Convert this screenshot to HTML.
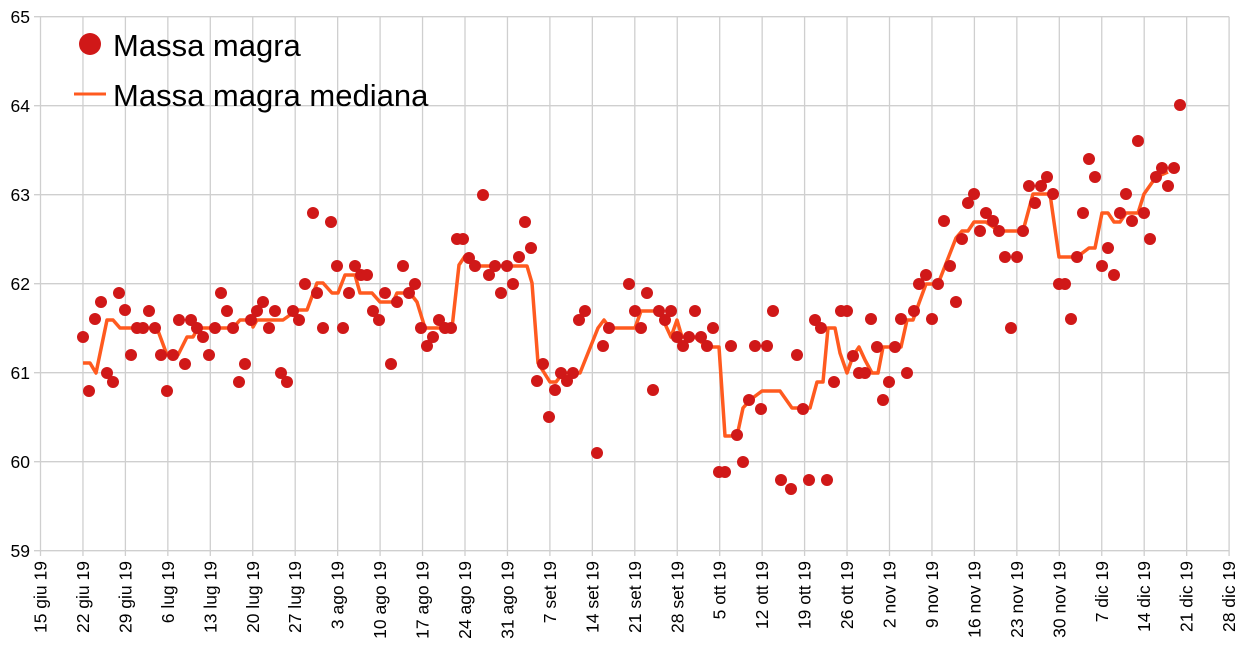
<!DOCTYPE html>
<html><head><meta charset="utf-8"><style>
body{margin:0;background:#fff}
svg text{font-family:"Liberation Sans",Arial,sans-serif;fill:#000}
</style></head><body>
<svg width="1245" height="664" viewBox="0 0 1245 664" xmlns="http://www.w3.org/2000/svg">
<defs>
<marker id="dot" markerUnits="userSpaceOnUse" markerWidth="14" markerHeight="14" refX="7" refY="7" viewBox="0 0 14 14" overflow="visible"><circle cx="7" cy="7" r="6" fill="#d01818"/></marker>
</defs>
<g stroke="#cfcfcf" stroke-width="1.3" fill="none">
<path d="M34 16.7H1229.1M34 105.7H1229.1M34 194.7H1229.1M34 283.7H1229.1M34 372.7H1229.1M34 461.7H1229.1M34 550.7H1229.1"/>
<path d="M40.5 16.7V556M82.95 16.7V556M125.4 16.7V556M167.85 16.7V556M210.3 16.7V556M252.75 16.7V556M295.2 16.7V556M337.65 16.7V556M380.1 16.7V556M422.55 16.7V556M465 16.7V556M507.45 16.7V556M549.9 16.7V556M592.35 16.7V556M634.8 16.7V556M677.25 16.7V556M719.7 16.7V556M762.15 16.7V556M804.6 16.7V556M847.05 16.7V556M889.5 16.7V556M931.95 16.7V556M974.4 16.7V556M1016.85 16.7V556M1059.3 16.7V556M1101.75 16.7V556M1144.2 16.7V556M1186.65 16.7V556M1229.1 16.7V556"/>
</g>
<g font-size="17.5" text-anchor="end">
<text x="30" y="23">65</text><text x="30" y="112">64</text><text x="30" y="201">63</text><text x="30" y="290">62</text><text x="30" y="379">61</text><text x="30" y="468">60</text><text x="30" y="557">59</text>
<text transform="translate(46.5,561) rotate(-90)">15 giu 19</text>
<text transform="translate(88.95,561) rotate(-90)">22 giu 19</text>
<text transform="translate(131.4,561) rotate(-90)">29 giu 19</text>
<text transform="translate(173.85,561) rotate(-90)">6 lug 19</text>
<text transform="translate(216.3,561) rotate(-90)">13 lug 19</text>
<text transform="translate(258.75,561) rotate(-90)">20 lug 19</text>
<text transform="translate(301.2,561) rotate(-90)">27 lug 19</text>
<text transform="translate(343.65,561) rotate(-90)">3 ago 19</text>
<text transform="translate(386.1,561) rotate(-90)">10 ago 19</text>
<text transform="translate(428.55,561) rotate(-90)">17 ago 19</text>
<text transform="translate(471,561) rotate(-90)">24 ago 19</text>
<text transform="translate(513.45,561) rotate(-90)">31 ago 19</text>
<text transform="translate(555.9,561) rotate(-90)">7 set 19</text>
<text transform="translate(598.35,561) rotate(-90)">14 set 19</text>
<text transform="translate(640.8,561) rotate(-90)">21 set 19</text>
<text transform="translate(683.25,561) rotate(-90)">28 set 19</text>
<text transform="translate(725.7,561) rotate(-90)">5 ott 19</text>
<text transform="translate(768.15,561) rotate(-90)">12 ott 19</text>
<text transform="translate(810.6,561) rotate(-90)">19 ott 19</text>
<text transform="translate(853.05,561) rotate(-90)">26 ott 19</text>
<text transform="translate(895.5,561) rotate(-90)">2 nov 19</text>
<text transform="translate(937.95,561) rotate(-90)">9 nov 19</text>
<text transform="translate(980.4,561) rotate(-90)">16 nov 19</text>
<text transform="translate(1022.85,561) rotate(-90)">23 nov 19</text>
<text transform="translate(1065.3,561) rotate(-90)">30 nov 19</text>
<text transform="translate(1107.75,561) rotate(-90)">7 dic 19</text>
<text transform="translate(1150.2,561) rotate(-90)">14 dic 19</text>
<text transform="translate(1192.65,561) rotate(-90)">21 dic 19</text>
<text transform="translate(1235.1,561) rotate(-90)">28 dic 19</text>
</g>
<polyline fill="none" stroke="#ff5a1f" stroke-width="3.5" stroke-linejoin="round" points="83,363 90,363 96,373 107,320 113,320 120,328 157,328 167,355 178,355 187,337 193,337 198,328 233,328 240,320 252,320 253,327 257,320 283,320 297,310 307,310 317,283 323,283 332,293 338,293 345,275 355,275 360,293 372,293 380,302 393,302 397,293 410,293 417,302 425,328 452,328 459,265 465,256 471,262 477,266 527,266 532,283 538,363 550,382 556,382 563,373 580,373 598,328 604,320 610,328 635,328 641,311 659,311 671,337 677,320 682,337 695,337 707,347 719,347 725,436 737,436 743,408 750,400 762,391 780,391 792,408 810,408 817,382 823,382 828,328 835,328 840,353 847,373 853,356 859,347 865,360 872,373 878,373 883,347 901,347 907,320 913,320 919,303 926,284 938,284 956,238 962,231 968,231 974,222 986,222 999,231 1023,231 1033,194 1050,194 1059,257 1077,257 1089,248 1095,248 1102,213 1108,213 1114,222 1120,222 1126,213 1138,213 1144,194 1156,177 1168,172"/>
<polyline fill="none" stroke="none" marker-start="url(#dot)" marker-mid="url(#dot)" marker-end="url(#dot)" points="83,337 89,391 95,319 101,302 107,373 113,382 119,293 125,310 131,355 137,328 143,328 149,311 155,328 161,355 167,391 173,355 179,320 185,364 191,320 197,328 203,337 209,355 215,328 221,293 227,311 233,328 239,382 245,364 251,320 257,311 263,302 269,328 275,311 281,373 287,382 293,311 299,320 305,284 313,213 317,293 323,328 331,222 337,266 343,328 349,293 355,266 361,275 367,275 373,311 379,320 385,293 391,364 397,302 403,266 409,293 415,284 421,328 427,346 433,337 439,320 445,328 451,328 457,239 463,239 469,258 475,266 483,195 489,275 495,266 501,293 507,266 513,284 519,257 525,222 531,248 537,381 543,364 549,417 555,390 561,373 567,381 573,373 579,320 585,311 597,453 603,346 609,328 629,284 635,311 641,328 647,293 653,390 659,311 665,320 671,311 677,337 683,346 689,337 695,311 701,337 707,346 713,328 719,472 725,472 731,346 737,435 743,462 749,400 755,346 761,409 767,346 773,311 781,480 791,489 797,355 803,409 809,480 815,320 821,328 827,480 834,382 841,311 847,311 853,356 859,373 865,373 871,319 877,347 883,400 889,382 895,347 901,319 907,373 914,311 919,284 926,275 932,319 938,284 944,221 950,266 956,302 962,239 968,203 974,194 980,231 986,213 993,221 999,231 1005,257 1011,328 1017,257 1023,231 1029,186 1035,203 1041,186 1047,177 1053,194 1059,284 1065,284 1071,319 1077,257 1083,213 1089,159 1095,177 1102,266 1108,248 1114,275 1120,213 1126,194 1132,221 1138,141 1144,213 1150,239 1156,177 1162,168 1168,186 1174,168 1180,105"/>
<circle cx="90" cy="44" r="11" fill="#d01818"/>
<text x="113" y="56" font-size="31">Massa magra</text>
<line x1="74" y1="94" x2="106" y2="94" stroke="#ff5a1f" stroke-width="3"/>
<text x="113" y="106" font-size="31">Massa magra mediana</text>
</svg>
</body></html>
